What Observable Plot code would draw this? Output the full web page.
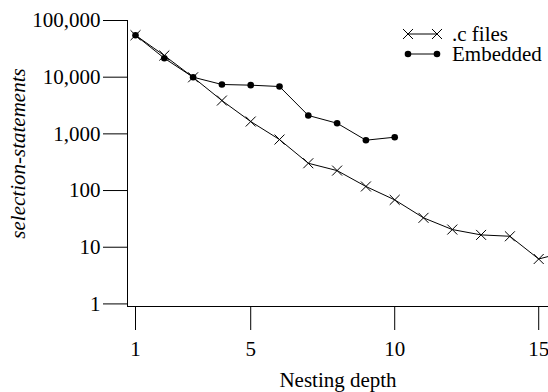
<!DOCTYPE html>
<html><head><meta charset="utf-8">
<script src="https://cdn.jsdelivr.net/npm/d3@7"></script>
<script src="https://cdn.jsdelivr.net/npm/@observablehq/plot@0.6"></script>
<style>body{margin:0;background:#fff} svg{display:block}</style>
</head><body><div id="chart"></div>
<script>
// Data
const cDepth = [1, 2, 3, 4, 5, 6, 7, 8, 9, 10, 11, 12, 13, 14, 15, 16];
const cFiles = [55000, 24100, 9950, 3870, 1650, 794, 303, 225, 118, 68.5, 33, 20.5, 16.5, 15.6, 6.2, 8.4];
const embDepth = [1, 2, 3, 4, 5, 6, 7, 8, 9, 10];
const embedded = [55000, 21600, 10000, 7430, 7230, 6840, 2110, 1540, 773, 873];
const yTicks = [1, 10, 100, 1000, 10000, 100000];
const xTicks = [1, 5, 10, 15];
const seriesNames = [".c files", "Embedded"];
const xLabel = "Nesting depth";
const yLabel = "selection-statements";

const cData = cDepth.map((d, i) => ({depth: d, value: cFiles[i]}));
const eData = embDepth.map((d, i) => ({depth: d, value: embedded[i]}));

const xDomain = [0.722, 15.34];
const yDomain = [0.9, 100000];
const font = "'Liberation Serif', 'Times New Roman', serif";
const fs = 21;

const chart = Plot.plot({
  width: 548,
  height: 392,
  marginLeft: 127,
  marginRight: 0,
  marginTop: 20,
  marginBottom: 86,
  style: {fontFamily: font, fontSize: fs + "px", background: "#fff", color: "#000"},
  x: {domain: xDomain},
  y: {type: "log", domain: yDomain},
  marks: [
    Plot.axisY(yTicks, {tickFormat: d3.format(","), tickSize: 24, tickPadding: 3, fontSize: fs, fontFamily: font, label: null}),
    Plot.axisX(xTicks, {tickSize: 24, tickPadding: 11, fontSize: fs, fontFamily: font, label: null}),
    Plot.ruleY([yDomain[0]], {stroke: "#000", strokeWidth: 1}),
    Plot.ruleX([xDomain[0]], {stroke: "#000", strokeWidth: 1}),
    Plot.line(eData, {x: "depth", y: "value", stroke: "#000", strokeWidth: 1, clip: true}),
    Plot.dot(eData, {x: "depth", y: "value", fill: "#000", r: 3.3, stroke: null, clip: true}),
    Plot.line(cData, {x: "depth", y: "value", stroke: "#000", strokeWidth: 1, clip: true}),
    Plot.dot(cData, {x: "depth", y: "value", symbol: "times", r: 4.6, stroke: "#000", strokeWidth: 1, clip: true}),
    Plot.text([xLabel], {frameAnchor: "bottom", dy: 74, text: d => d, fontSize: fs, fontFamily: font, textAnchor: "middle", lineAnchor: "middle"}),
    Plot.text([yLabel], {frameAnchor: "left", dx: -109, dy: -10, rotate: -90, text: d => d, fontSize: fs, fontFamily: font, fontStyle: "italic", textAnchor: "middle", lineAnchor: "middle"})
  ]
});

// Legend (top-right, inside the plot area)
const svg = d3.select(chart);
const lg = svg.append("g").attr("style", `font-family:${font};font-size:${fs}px`).attr("text-anchor", "start");
const sym = d3.symbol(d3.symbolTimes, 67);
[0, 1].forEach(i => {
  const yy = 34 + i * 20;
  const row = lg.append("g").attr("transform", `translate(0,${yy})`);
  row.append("line").attr("x1", 408).attr("x2", 437).attr("y1", 0).attr("y2", 0).attr("stroke", "#000");
  [408, 437].forEach(xx => {
    if (i === 0) row.append("path").attr("d", sym()).attr("transform", `translate(${xx},0)`).attr("fill", "none").attr("stroke", "#000");
    else row.append("circle").attr("cx", xx).attr("cy", 0).attr("r", 3.3).attr("fill", "#000");
  });
  row.append("text").attr("x", 452).attr("y", 0).attr("dy", "0.32em").attr("text-anchor", "start").text(seriesNames[i]);
});

document.getElementById("chart").appendChild(chart);
</script>
</body></html>
